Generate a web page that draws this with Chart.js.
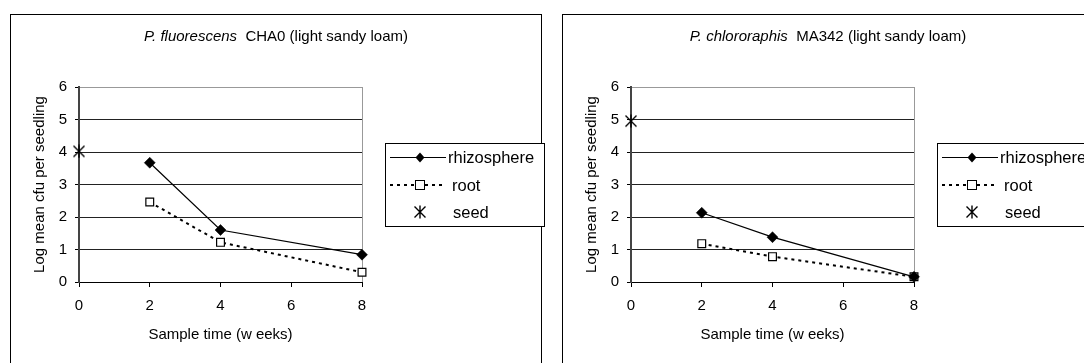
<!DOCTYPE html>
<html>
<head>
<meta charset="utf-8">
<script src="https://cdn.jsdelivr.net/npm/chart.js@4/dist/chart.umd.min.js"></script>
<style>
html, body { margin: 0; padding: 0; background: #fff; overflow: hidden; width: 1084px; height: 363px; }
canvas { position: absolute; top: 0; }
</style>
</head>
<body>
<canvas id="left" width="552" height="363" style="left:0"></canvas>
<canvas id="right" width="552" height="363" style="left:552px"></canvas>
<script>
// sample weeks and values
const weeks = [2, 4, 8];
const seedWeek = [0];
const chaRhizo = [3.67, 1.6, 0.84];
const chaRoot = [2.46, 1.22, 0.3];
const chaSeed = [4.02];
const maRhizo = [2.13, 1.38, 0.16];
const maRoot = [1.18, 0.78, 0.16];
const maSeed = [4.95];
const xTicks = [0, 2, 4, 6, 8];
const yTicks = [0, 1, 2, 3, 4, 5, 6];
const seriesNames = ['rhizosphere', 'root', 'seed'];

const FONT = "'Liberation Sans', Arial, sans-serif";

function starMark() {
    const c = document.createElement('canvas');
    c.width = 14; c.height = 14;
    const g = c.getContext('2d');
    g.strokeStyle = '#000';
    g.lineWidth = 1.4;
    g.beginPath();
    g.moveTo(1.5, 1.5); g.lineTo(12.5, 12.5);
    g.moveTo(12.5, 1.5); g.lineTo(1.5, 12.5);
    g.moveTo(7, 0.5); g.lineTo(7, 13.5);
    g.stroke();
    return c;
}
const seedImg = starMark();

function pts(xs, ys) {
    return xs.map((x, i) => ({ x: x, y: ys[i] }));
}

// frame, mixed italic title and the legend box
function decor(italicPart, restPart) {
    return {
        id: 'decor',
        afterDraw(chart) {
            const g = chart.ctx;
            g.save();
            g.strokeStyle = '#000';
            g.lineWidth = 1;
            g.strokeRect(10.5, 14.5, 531, 400);

            // title
            g.fillStyle = '#000';
            g.textBaseline = 'middle';
            g.font = 'italic 15px ' + FONT;
            const w1 = g.measureText(italicPart).width;
            g.font = '15px ' + FONT;
            const w2 = g.measureText(restPart).width;
            let x = 276 - (w1 + w2) / 2;
            g.font = 'italic 15px ' + FONT;
            g.fillText(italicPart, x, 37);
            g.font = '15px ' + FONT;
            g.fillText(restPart, x + w1, 37);

            // legend
            g.fillStyle = '#fff';
            g.fillRect(385.5, 143.5, 159, 83);
            g.strokeStyle = '#000';
            g.strokeRect(385.5, 143.5, 159, 83);
            const rows = [157, 185, 212];
            g.lineWidth = 1;
            g.beginPath();
            g.moveTo(390, rows[0] + 0.5); g.lineTo(446, rows[0] + 0.5);
            g.stroke();
            g.fillStyle = '#000';
            g.beginPath();
            g.moveTo(420, rows[0] - 4.5); g.lineTo(424.5, rows[0] + 0.5);
            g.lineTo(420, rows[0] + 5.5); g.lineTo(415.5, rows[0] + 0.5);
            g.closePath(); g.fill();

            g.lineWidth = 2;
            g.setLineDash([3, 4]);
            g.beginPath();
            g.moveTo(390, rows[1]); g.lineTo(446, rows[1]);
            g.stroke();
            g.setLineDash([]);
            g.lineWidth = 1;
            g.fillStyle = '#fff';
            g.fillRect(415.5, rows[1] - 4.5, 9, 9);
            g.strokeRect(415.5, rows[1] - 4.5, 9, 9);

            g.drawImage(seedImg, 420 - 7, rows[2] - 7);

            g.fillStyle = '#000';
            g.font = '16.5px ' + FONT;
            g.textBaseline = 'middle';
            g.fillText(seriesNames[0], 448, rows[0] + 1);
            g.fillText(seriesNames[1], 452, rows[1] + 1);
            g.fillText(seriesNames[2], 453, rows[2] + 1);
            g.restore();
        }
    };
}

function makeChart(id, rhizo, root, seed, italicPart, restPart) {
    return new Chart(document.getElementById(id), {
        type: 'line',
        data: {
            datasets: [{
                label: seriesNames[0],
                data: pts(weeks, rhizo),
                borderColor: '#000',
                borderWidth: 1.2,
                pointStyle: 'rectRot',
                pointRadius: 5.5,
                pointBackgroundColor: '#000',
                pointBorderColor: '#000',
                pointBorderWidth: 0.5,
                clip: false
            }, {
                label: seriesNames[1],
                data: pts(weeks, root),
                borderColor: '#000',
                borderWidth: 2,
                borderDash: [3, 4],
                pointStyle: 'rect',
                pointRadius: 5.5,
                pointBackgroundColor: '#fff',
                pointBorderColor: '#000',
                pointBorderWidth: 1.2,
                clip: false
            }, {
                label: seriesNames[2],
                data: pts(seedWeek, seed),
                showLine: false,
                pointStyle: seedImg,
                clip: false
            }]
        },
        options: {
            responsive: false,
            animation: false,
            layout: { padding: { top: 87, right: 190, bottom: 0, left: 0 } },
            plugins: { legend: { display: false }, tooltip: { enabled: false } },
            scales: {
                x: {
                    type: 'linear',
                    min: 0, max: 8,
                    afterBuildTicks: s => { s.ticks = xTicks.map(v => ({ value: v })); },
                    afterFit: s => { s.height = 81; },
                    grid: {
                        drawOnChartArea: true,
                        color: c => (c.tick && c.tick.value === 8) ? '#999' : 'rgba(0,0,0,0)',
                        tickColor: '#000',
                        tickLength: 5
                    },
                    border: { color: '#000', width: 1 },
                    ticks: { color: '#000', font: { family: FONT, size: 15 }, padding: 10, maxRotation: 0 },
                    title: {
                        display: true,
                        text: 'Sample time (w eeks)',
                        color: '#000',
                        font: { family: FONT, size: 15 },
                        padding: { top: 0, bottom: 19 }
                    }
                },
                y: {
                    min: 0, max: 6,
                    afterBuildTicks: s => { s.ticks = yTicks.map(v => ({ value: v })); },
                    afterFit: s => { s.width = 79; },
                    grid: {
                        color: c => (c.tick && c.tick.value === 6) ? '#999' : '#222',
                        tickColor: '#000',
                        tickLength: 4
                    },
                    border: { color: '#444', width: 2 },
                    ticks: { color: '#000', font: { family: FONT, size: 15 }, padding: 8 },
                    title: {
                        display: true,
                        text: 'Log mean cfu per seedling',
                        color: '#000',
                        font: { family: FONT, size: 15 },
                        padding: { top: 31, bottom: 0 }
                    }
                }
            }
        },
        plugins: [decor(italicPart, restPart)]
    });
}

makeChart('left', chaRhizo, chaRoot, chaSeed, 'P. fluorescens', '  CHA0 (light sandy loam)');
makeChart('right', maRhizo, maRoot, maSeed, 'P. chlororaphis', '  MA342 (light sandy loam)');
</script>
</body>
</html>
